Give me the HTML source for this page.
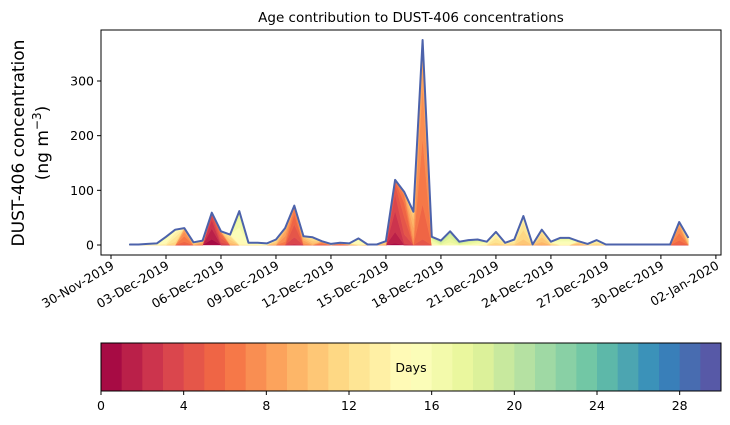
<!DOCTYPE html>
<html><head><meta charset="utf-8"><style>
html,body{margin:0;padding:0;background:#fff;}
svg{display:block;font-family:"DejaVu Sans","Liberation Sans",sans-serif;}
</style></head><body>
<svg id="chart" width="730" height="425" viewBox="0 0 730 425">
<text x="411" y="22" font-size="13.5" text-anchor="middle">Age contribution to DUST-406 concentrations</text>
<g id="plot"></g>
<g id="xaxis"></g>
<g id="yaxis"></g>
<text transform="translate(28,143) rotate(-90)" font-size="17" text-anchor="middle"><tspan x="0" dy="-4">DUST-406 concentration</tspan><tspan x="0" dy="24">(ng m</tspan><tspan font-size="12" dy="-7">−3</tspan><tspan dy="7">)</tspan></text>
<g id="cbar"></g>
</svg>
<script>
const startDay = 1; // days after 30-Nov-2019
const stepDays = 0.5;
const totals = [1,1,2,3,15,28,31,5,8,59,25,19,62,4,4,3,10,31,72,16,14,7,2,4,3,12,1,1,7,119,97,61,375,15,8,25,6,9,10,6,24,4,10,53,1,28,6,13,13,7,2,9,1,1,1,1,1,1,1,1,42,13];
const meanAge = [14,14,14,14,14,12,6,10,8,1,4,10,15,14,14,14,10,7,4,8,10,6,10,6,10,14,10,10,10,2,4,8,6,16,18,17,18,17,16,14,12,12,12,11,12,10,12,15,15,10,12,12,14,14,14,14,14,14,14,14,6,10];
const xTickLabels = ["30-Nov-2019","03-Dec-2019","06-Dec-2019","09-Dec-2019","12-Dec-2019","15-Dec-2019","18-Dec-2019","21-Dec-2019","24-Dec-2019","27-Dec-2019","30-Dec-2019","02-Jan-2020"];
const yTicks = [0,100,200,300];
const cbTicks = [0,4,8,12,16,20,24,28];
const NBINS = 30;

const NS="http://www.w3.org/2000/svg";
const L=101,R=721,T=30,B=255;
const X0=111, PXDAY=18.33;
const xs=d=>X0+d*PXDAY;
const ys=v=>245-v*0.5467;
function mk(tag,attrs,parent){const e=document.createElementNS(NS,tag);for(const k in attrs)e.setAttribute(k,attrs[k]);parent.appendChild(e);return e;}
const stops=[[0,[158,1,66]],[.1,[213,62,79]],[.2,[244,109,67]],[.3,[253,174,97]],[.4,[254,224,139]],[.5,[255,255,191]],[.6,[230,245,152]],[.7,[171,221,164]],[.8,[102,194,165]],[.9,[50,136,189]],[1,[94,79,162]]];
function spectral(t){for(let i=0;i<stops.length-1;i++){const[a,ca]=stops[i],[b,cb]=stops[i+1];if(t<=b){const f=(t-a)/(b-a);return"rgb("+ca.map((c,j)=>Math.round(c+(cb[j]-c)*f)).join(",")+")";}}return"rgb(94,79,162)";}
const binColor=k=>spectral((k+0.5)/NBINS);

const plot=document.getElementById('plot');
const clip=mk('clipPath',{id:'pc'},mk('defs',{},plot));
mk('rect',{x:L,y:T,width:R-L,height:B-T},clip);
const g=mk('g',{'clip-path':'url(#pc)'},plot);
// layer shares: dominant age bin plus a tail toward older ages
const shares=meanAge.map(m=>{const w=[];let s=0;for(let k=0;k<NBINS;k++){const dd=k-m;const v=Math.exp(-(dd*dd)/(2*(dd<0?0.8:2.5)));w.push(v);s+=v;}return w.map(v=>v/s);});
const dx=totals.map((_,i)=>xs(startDay+i*stepDays));
let lower=totals.map(()=>0);
for(let k=0;k<NBINS;k++){
  const upper=lower.map((v,i)=>v+totals[i]*shares[i][k]);
  let d="M"+dx.map((x,i)=>x.toFixed(1)+","+ys(upper[i]).toFixed(1)).join("L");
  for(let i=totals.length-1;i>=0;i--)d+="L"+dx[i].toFixed(1)+","+ys(lower[i]).toFixed(1);
  const p=mk('path',{d:d+"Z",fill:binColor(k),stroke:binColor(k),'stroke-width':0.4},g);
  
  
  lower=upper;
}
const line=mk('polyline',{points:dx.map((x,i)=>x.toFixed(1)+","+ys(totals[i]).toFixed(1)).join(" "),fill:"none",stroke:"#4c62ab",'stroke-width':2,'stroke-linejoin':'round'},g);


mk('rect',{x:L,y:T,width:R-L,height:B-T,fill:'none',stroke:'#000','stroke-width':1},plot);

const xa=document.getElementById('xaxis');
xTickLabels.forEach((lab,i)=>{const x=xs(i*3);
  mk('line',{x1:x,x2:x,y1:B,y2:B+4,stroke:'#000'},xa);
  const t=mk('text',{transform:`translate(${x+4},${B+13}) rotate(-30)`,'font-size':'12.5','text-anchor':'end'},xa);
  t.textContent=lab;
  
  
});
const ya=document.getElementById('yaxis');
yTicks.forEach(v=>{const y=ys(v);
  mk('line',{x1:L-4,x2:L,y1:y,y2:y,stroke:'#000'},ya);
  const t=mk('text',{x:L-7,y:y+4.5,'font-size':'12.5','text-anchor':'end'},ya);
  t.textContent=v;
  
  
});
const cb=document.getElementById('cbar');
const CL=101,CR=721,CT=343,CB=391,cw=(CR-CL)/NBINS;
for(let k=0;k<NBINS;k++){const r=mk('rect',{x:CL+k*cw,y:CT,width:cw+0.5,height:CB-CT,fill:binColor(k)},cb);
  
  }
mk('rect',{x:CL,y:CT,width:CR-CL,height:CB-CT,fill:'none',stroke:'#000'},cb);
const dl=mk('text',{x:411,y:372,'font-size':'12.5','text-anchor':'middle'},cb);dl.textContent='Days';


cbTicks.forEach(v=>{const x=CL+v*cw;
  mk('line',{x1:x,x2:x,y1:CB,y2:CB+4,stroke:'#000'},cb);
  const t=mk('text',{x:x,y:CB+19,'font-size':'12.5','text-anchor':'middle'},cb);t.textContent=v;
  
  
});
</script>
</body></html>
